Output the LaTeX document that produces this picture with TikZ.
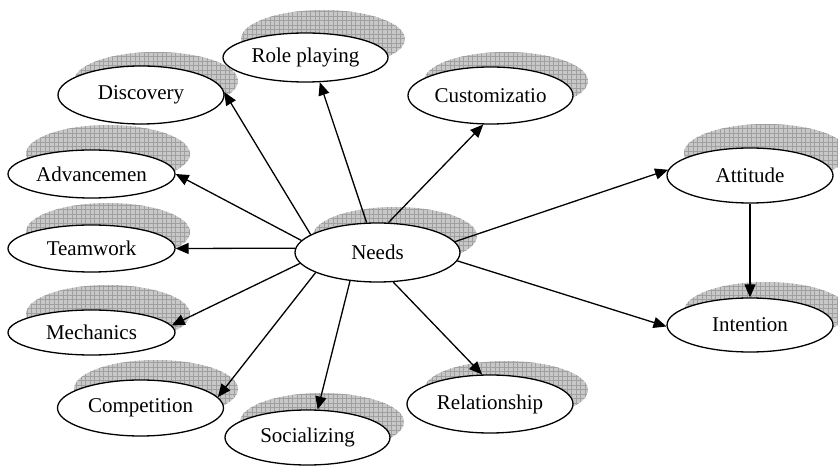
\documentclass[tikz,border=0pt]{standalone}
\usepackage{fontspec}
\setmainfont{Liberation Serif}
\usetikzlibrary{shapes.geometric,arrows.meta}
\definecolor{shadefill}{RGB}{200,200,200}
\definecolor{shadegrid}{RGB}{160,160,160}
\newcommand{\shadowell}[2]{%
  \begin{scope}
    \clip (#1,#2) ellipse (82 and 29);
    \fill[shadefill] (#1-83,#2-30) rectangle (#1+83,#2+30);
    \draw[shadegrid,line width=0.45pt,step=4.5pt] (#1-84,#2-32) grid (#1+84,#2+32);
  \end{scope}}
\tikzset{
  bub/.style={ellipse,draw=black,fill=white,line width=1.3pt,inner sep=0pt,
    font=\fontsize{21}{25}\selectfont},
  conn/.style={line width=1.3pt,-{Triangle[length=13pt,width=11pt]}}
}
\begin{document}
\begin{tikzpicture}[x=1pt,y=1pt]
\useasboundingbox (0,0) rectangle (838,466);
% shadows
\shadowell{323}{427}
\shadowell{395}{230}
\shadowell{156}{385}
\shadowell{506}{385}
\shadowell{108}{312}
\shadowell{108}{234}
\shadowell{108}{152}
\shadowell{156}{77}
\shadowell{322}{44}
\shadowell{506}{76}
\shadowell{766}{313}
\shadowell{766}{155}
% nodes
\node[bub,minimum width=165pt,minimum height=59pt] (needs) at (377.5,213.5) {Needs};
\node[bub,minimum width=165pt,minimum height=49pt] (role) at (305.5,408.5) {Role playing};
\node[bub,minimum width=166pt,minimum height=58pt] (disc) at (141,371) {Discovery};
\node[bub,minimum width=165pt,minimum height=57pt] (cust) at (490.5,370.5) {Customizatio};
\node[bub,minimum width=167pt,minimum height=48pt] (adv) at (91.5,292) {Advancemen};
\node[bub,minimum width=167pt,minimum height=47pt] (team) at (91.5,217.5) {Teamwork};
\node[bub,minimum width=167pt,minimum height=45pt] (mech) at (91.5,133.5) {Mechanics};
\node[bub,minimum width=166pt,minimum height=56pt] (comp) at (140.5,58) {Competition};
\node[bub,minimum width=165pt,minimum height=55pt] (soc) at (307.5,28.5) {Socializing};
\node[bub,minimum width=166pt,minimum height=58pt] (rel) at (490,62) {Relationship};
\node[bub,minimum width=166pt,minimum height=55pt] (att) at (750,290.5) {Attitude};
\node[bub,minimum width=166pt,minimum height=54pt] (int) at (750,141) {Intention};
% connectors
\draw[conn] (needs.110) -- (role.300);
\draw[conn] (needs.70) -- (cust.256);
\draw[conn] (needs.165) -- (disc.2);
\draw[conn] (needs.171) -- (adv.0);
\draw[conn] (needs.177) -- (team.0);
\draw[conn] (needs.188) -- (mech.5);
\draw[conn] (needs.198) -- (comp.8);
\draw[conn] (needs.226) -- (soc.70);
\draw[conn] (needs.298) -- (rel.105);
\draw[conn] (needs.8) -- (att.176);
\draw[conn] (needs.354) -- (int.181);
\draw[conn] (att.south) -- (int.north);
\end{tikzpicture}
\end{document}
